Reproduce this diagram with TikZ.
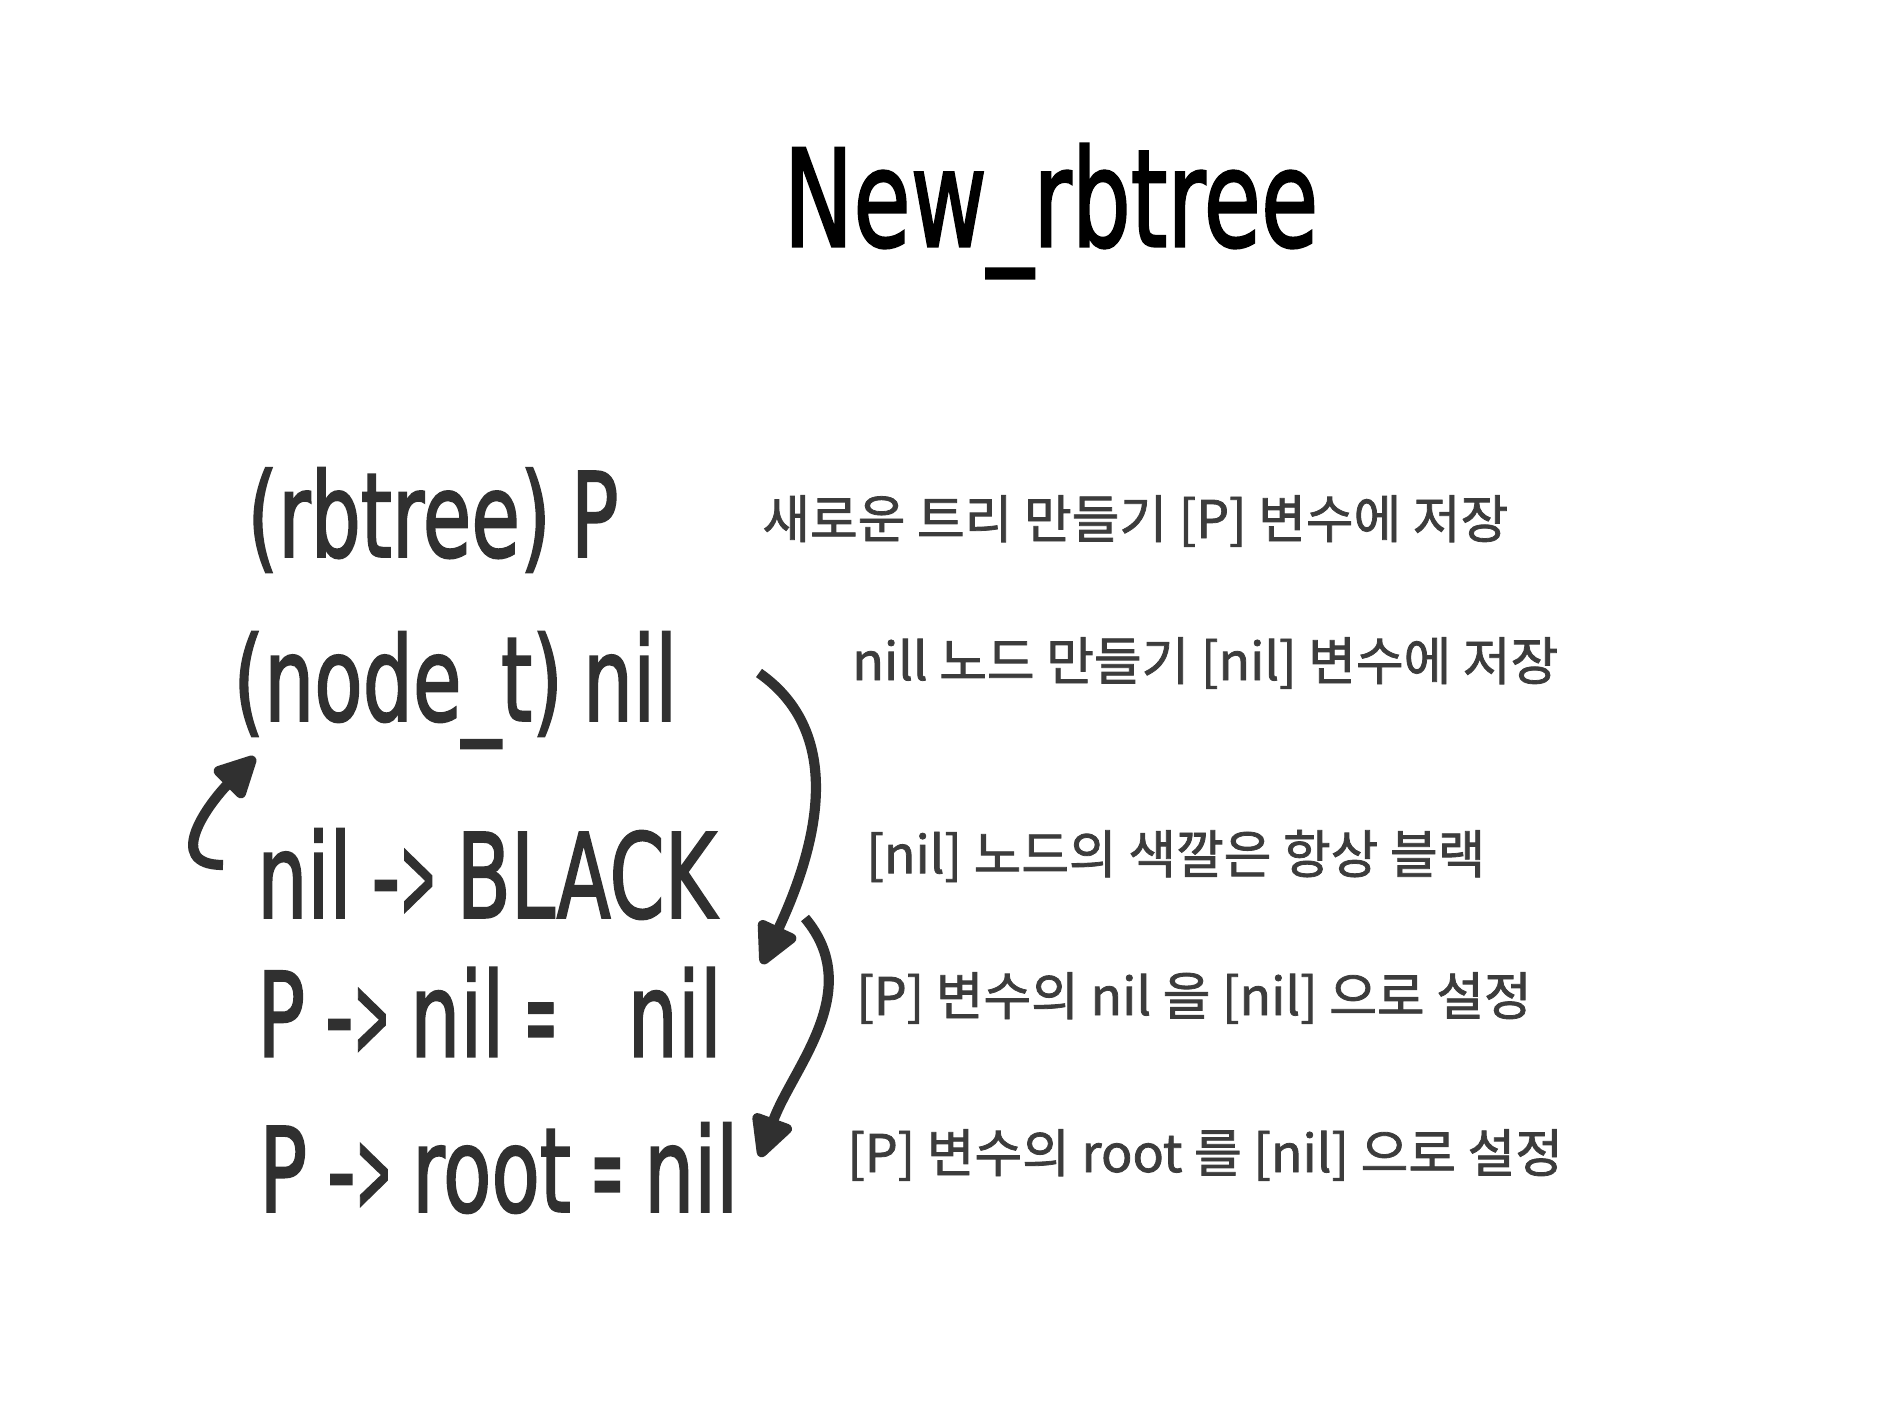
\documentclass[tikz,border=0pt]{standalone}
\usepackage{fontspec}
\newfontfamily\handfont{DejaVu Sans}[FakeBold=2,WordSpace=0.8]
\newfontfamily\krfont{Noto Sans CJK KR}[FakeBold=1.5]
\newcommand{\hto}{-\scalebox{0.55}[1]{>}}
\newcommand{\heq}{\scalebox{0.5}[1]{=}}
\definecolor{inkgray}{RGB}{48,48,48}
\definecolor{notegray}{RGB}{60,60,60}
\usetikzlibrary{arrows.meta,calc}

\begin{document}
\begin{tikzpicture}[
  hand/.style={font=\handfont\fontsize{45}{54}\selectfont,text=inkgray,anchor=west,
    inner sep=0pt,yscale=1.48,transform shape},
  headline/.style={font=\handfont\fontsize{53}{62}\selectfont,inner sep=0pt,
    yscale=1.45,transform shape},
  note/.style={font=\krfont\fontsize{29.5}{34}\selectfont,text=notegray,
    anchor=west,inner sep=0pt},
  arr/.style={-{Triangle[length=0.95cm,width=0.9cm,round]},line width=5.8pt,inkgray}
]
  \useasboundingbox (0,0) rectangle (37.8,28.34);

  % Title
  \node[headline] (title) at (21.02,24.12) {New\_rbtree};

  % Code lines
  \node[hand] (ptype)   at (4.94,17.94) {(rbtree) P};
  \node[hand] (niltype) at (4.66,14.54) {(node\_t) nil};
  \node[hand] (black)   at (5.14,10.86) {nil \hto{} BLACK};
  \node[hand] (pnil)    at (5.14,8.10)  {P \hto{} nil \heq{} \hspace{0.6cm} nil};
  \node[hand] (proot)   at (5.18,4.98)  {P \hto{} root \heq{} nil};

  % Notes
  \node[note] (d1) at (15.24,17.92) {새로운 트리 만들기 [P] 변수에 저장};
  \node[note] (d2) at (17.04,15.08) {nill 노드 만들기 [nil] 변수에 저장};
  \node[note] (d3) at (17.32,11.22) {[nil] 노드의 색깔은 항상 블랙};
  \node[note] (d4) at (17.12,8.38)  {[P] 변수의 nil 을 [nil] 으로 설정};
  \node[note] (d5) at (16.94,5.24)  {[P] 변수의 root 를 [nil] 으로 설정};

  % Arrows
  \draw[arr] ($(niltype.west)+(10.52,0.34)$) to[out=-35,in=65]
    ($(pnil.west)+(10.10,0.96)$);
  \draw[arr] ($(pnil.west)+(10.96,1.88)$) to[out=-50,in=70]
    ($(proot.west)+(10.02,0.22)$);
  \draw[arr] ($(black.west)+(-0.68,0.18)$) to[out=180,in=225,looseness=1.4]
    ($(niltype.west)+(0.44,-1.34)$);
\end{tikzpicture}
\end{document}
